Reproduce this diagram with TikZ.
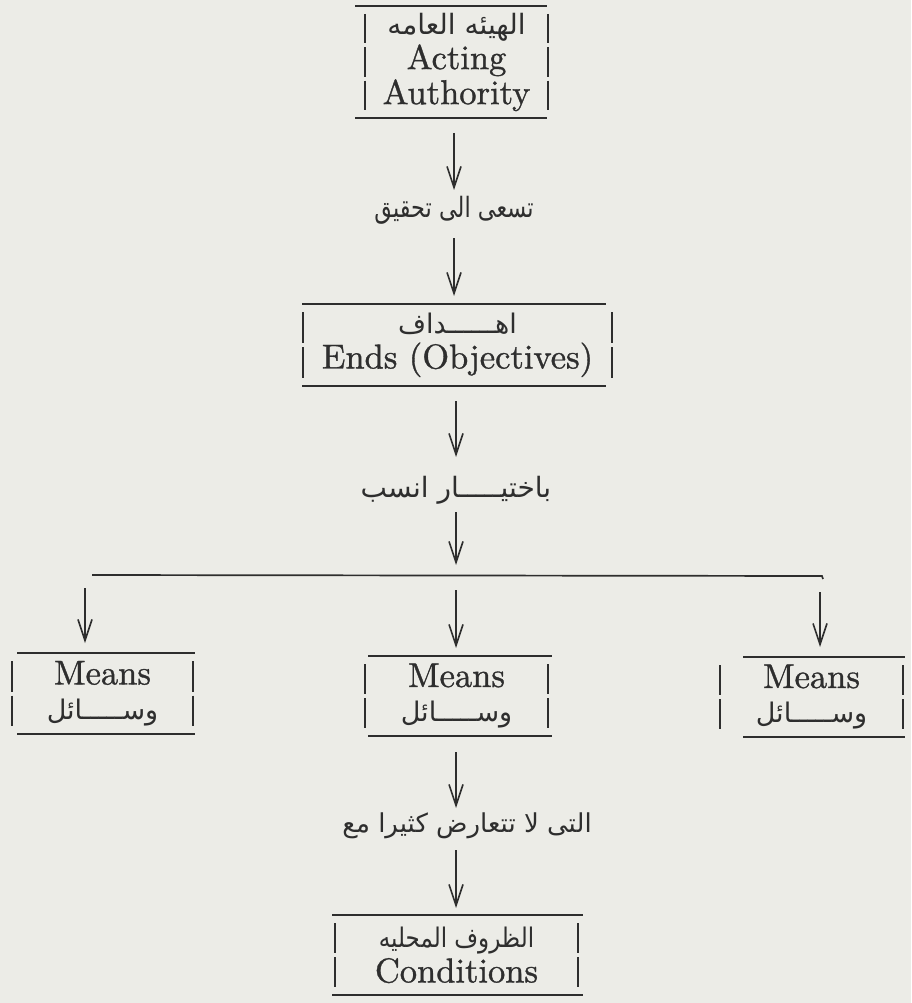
\documentclass[tikz,border=0pt]{standalone}
\usepackage{fontspec}
\usepackage{graphicx}
\usepackage{xcolor}
\usepackage{tikz}
\usetikzlibrary{calc,arrows.meta}
\setmainfont{lmroman10-regular.otf}[FakeBold=1]
\newfontfamily\arabicfont[Script=Arabic]{DejaVu Sans}
\TeXXeTstate=1
\definecolor{paper}{HTML}{ECECE7}
\definecolor{ink}{HTML}{2E2E2E}
\tikzset{
  rule/.style={draw=ink, line width=1.9pt},
  bar/.style={draw=ink, line width=1.8pt},
  flow/.style={draw=ink, line width=1.6pt, -{Straight Barb[length=21pt,width=14pt,line width=1.6pt]}},
  boxtext/.style={inner sep=0pt, outer sep=0pt, align=center, text=ink, font=\fontsize{34.5}{35}\selectfont},
  lab/.style={inner sep=0pt, outer sep=0pt, anchor=base, text height=22pt, text depth=8pt, text=ink, font=\arabicfont\fontsize{26}{30}\selectfont}
}
\newcommand{\artext}[2][26]{{\arabicfont\fontsize{#1}{34}\selectfont\beginR #2\endR}}
% rules above and below, broken bars at the sides
% #1 node, #2 lines, #3 height, #4 #5 rule offsets
\newcommand{\barbox}[5]{%
  \draw[rule] ($(#1.north west)+(#4,0)$) -- ($(#1.north east)+(#5,0)$);
  \draw[rule] ($(#1.south west)+(#4,0)$) -- ($(#1.south east)+(#5,0)$);
  \pgfmathsetmacro{\seglen}{(#3-12)/#2}
  \foreach \k in {1,...,#2}{
    \draw[bar] ($(#1.north west)+(0,{8+(\k-1)*\seglen})$) -- ($(#1.north west)+(0,{4+\k*\seglen})$);
    \draw[bar] ($(#1.north east)+(0,{8+(\k-1)*\seglen})$) -- ($(#1.north east)+(0,{4+\k*\seglen})$);
  }
}

\begin{document}
\begin{tikzpicture}[x=1pt,y=-1pt]
  \fill[paper] (0,0) rectangle (911,1003);
  \useasboundingbox (0,0) rectangle (911,1003);

  % main column
  \node[boxtext, minimum width=183pt, minimum height=112pt] (auth) at (456.5,62)
    {\artext[28]{الهيئه العامه}\\Acting\\Authority};
  \node[lab, font=\arabicfont\fontsize{28}{30}\selectfont] (seek) at (454,217)
    {\scalebox{0.8}[1]{\beginR تسعى الى تحقيق\endR}};
  \node[boxtext, minimum width=309pt, minimum height=82pt] (ends) at (457.5,345)
    {\artext[27]{اهــــــداف}\\Ends (Objectives)};
  \node[lab, font=\arabicfont\fontsize{28}{30}\selectfont] (choose) at (456,497)
    {\beginR باختيـــــار انسب\endR};

  % the three means
  \node[boxtext, minimum width=181pt, minimum height=81pt] (meansL) at (102.5,693.5)
    {Means\\\artext[27]{وســـــائل}};
  \node[boxtext, minimum width=183pt, minimum height=80pt] (meansM) at (456.5,696)
    {Means\\\artext[27]{وســـــائل}};
  \node[boxtext, minimum width=183pt, minimum height=80pt] (meansR) at (811.5,697)
    {Means\\\artext[27]{وســـــائل}};

  \node[lab] (warn) at (467,832) {\beginR التى لا تتعارض كثيرا مع\endR};
  \node[boxtext, minimum width=243pt, minimum height=80pt] (cond) at (456.5,955)
    {\scalebox{0.85}[1]{\artext[27]{الظروف المحليه}}\\Conditions};

  \barbox{auth}{3}{112}{-10}{-1}
  \barbox{ends}{2}{82}{-1}{-6}
  \barbox{meansL}{2}{81}{5}{2}
  \barbox{meansM}{2}{80}{3}{4}
  \barbox{meansR}{2}{80}{23}{2}
  \barbox{cond}{2}{80}{-3}{5}

  % split line
  \coordinate (split) at (455,576);
  \coordinate (splitL) at (92,575);
  \coordinate (splitR) at (822,576);
  \coordinate (dropL) at (85,576);
  \coordinate (dropR) at (820,576);
  \draw[rule, line width=1.7pt] (splitL) -- (splitR) -- ++(1,3);

  \draw[flow, shorten <=15pt, shorten >=5pt] (auth.south -| seek) -- (seek.north);
  \draw[flow, shorten <=13pt, shorten >=8pt] (seek.south) -- (seek.south |- ends.north);
  \draw[flow, shorten <=15pt, shorten >=18pt] (ends.south -| choose) -- (choose.north);
  \draw[flow, shorten <=7pt, shorten >=11pt] (choose.south) -- (choose.south |- split);
  \draw[flow, shorten <=12pt, shorten >=10pt] (dropL) -- (dropL |- meansL.north);
  \draw[flow, shorten <=14pt, shorten >=8pt] (split -| choose) -- (choose |- meansM.north);
  \draw[flow, shorten <=16pt, shorten >=10pt] (dropR) -- (dropR |- meansR.north);
  \draw[flow, shorten <=16pt, shorten >=2pt] (meansM.south -| choose) -- (choose |- warn.north);
  \draw[flow, shorten <=10pt, shorten >=7pt] (choose |- warn.south) -- (choose |- cond.north);
\end{tikzpicture}
\end{document}
